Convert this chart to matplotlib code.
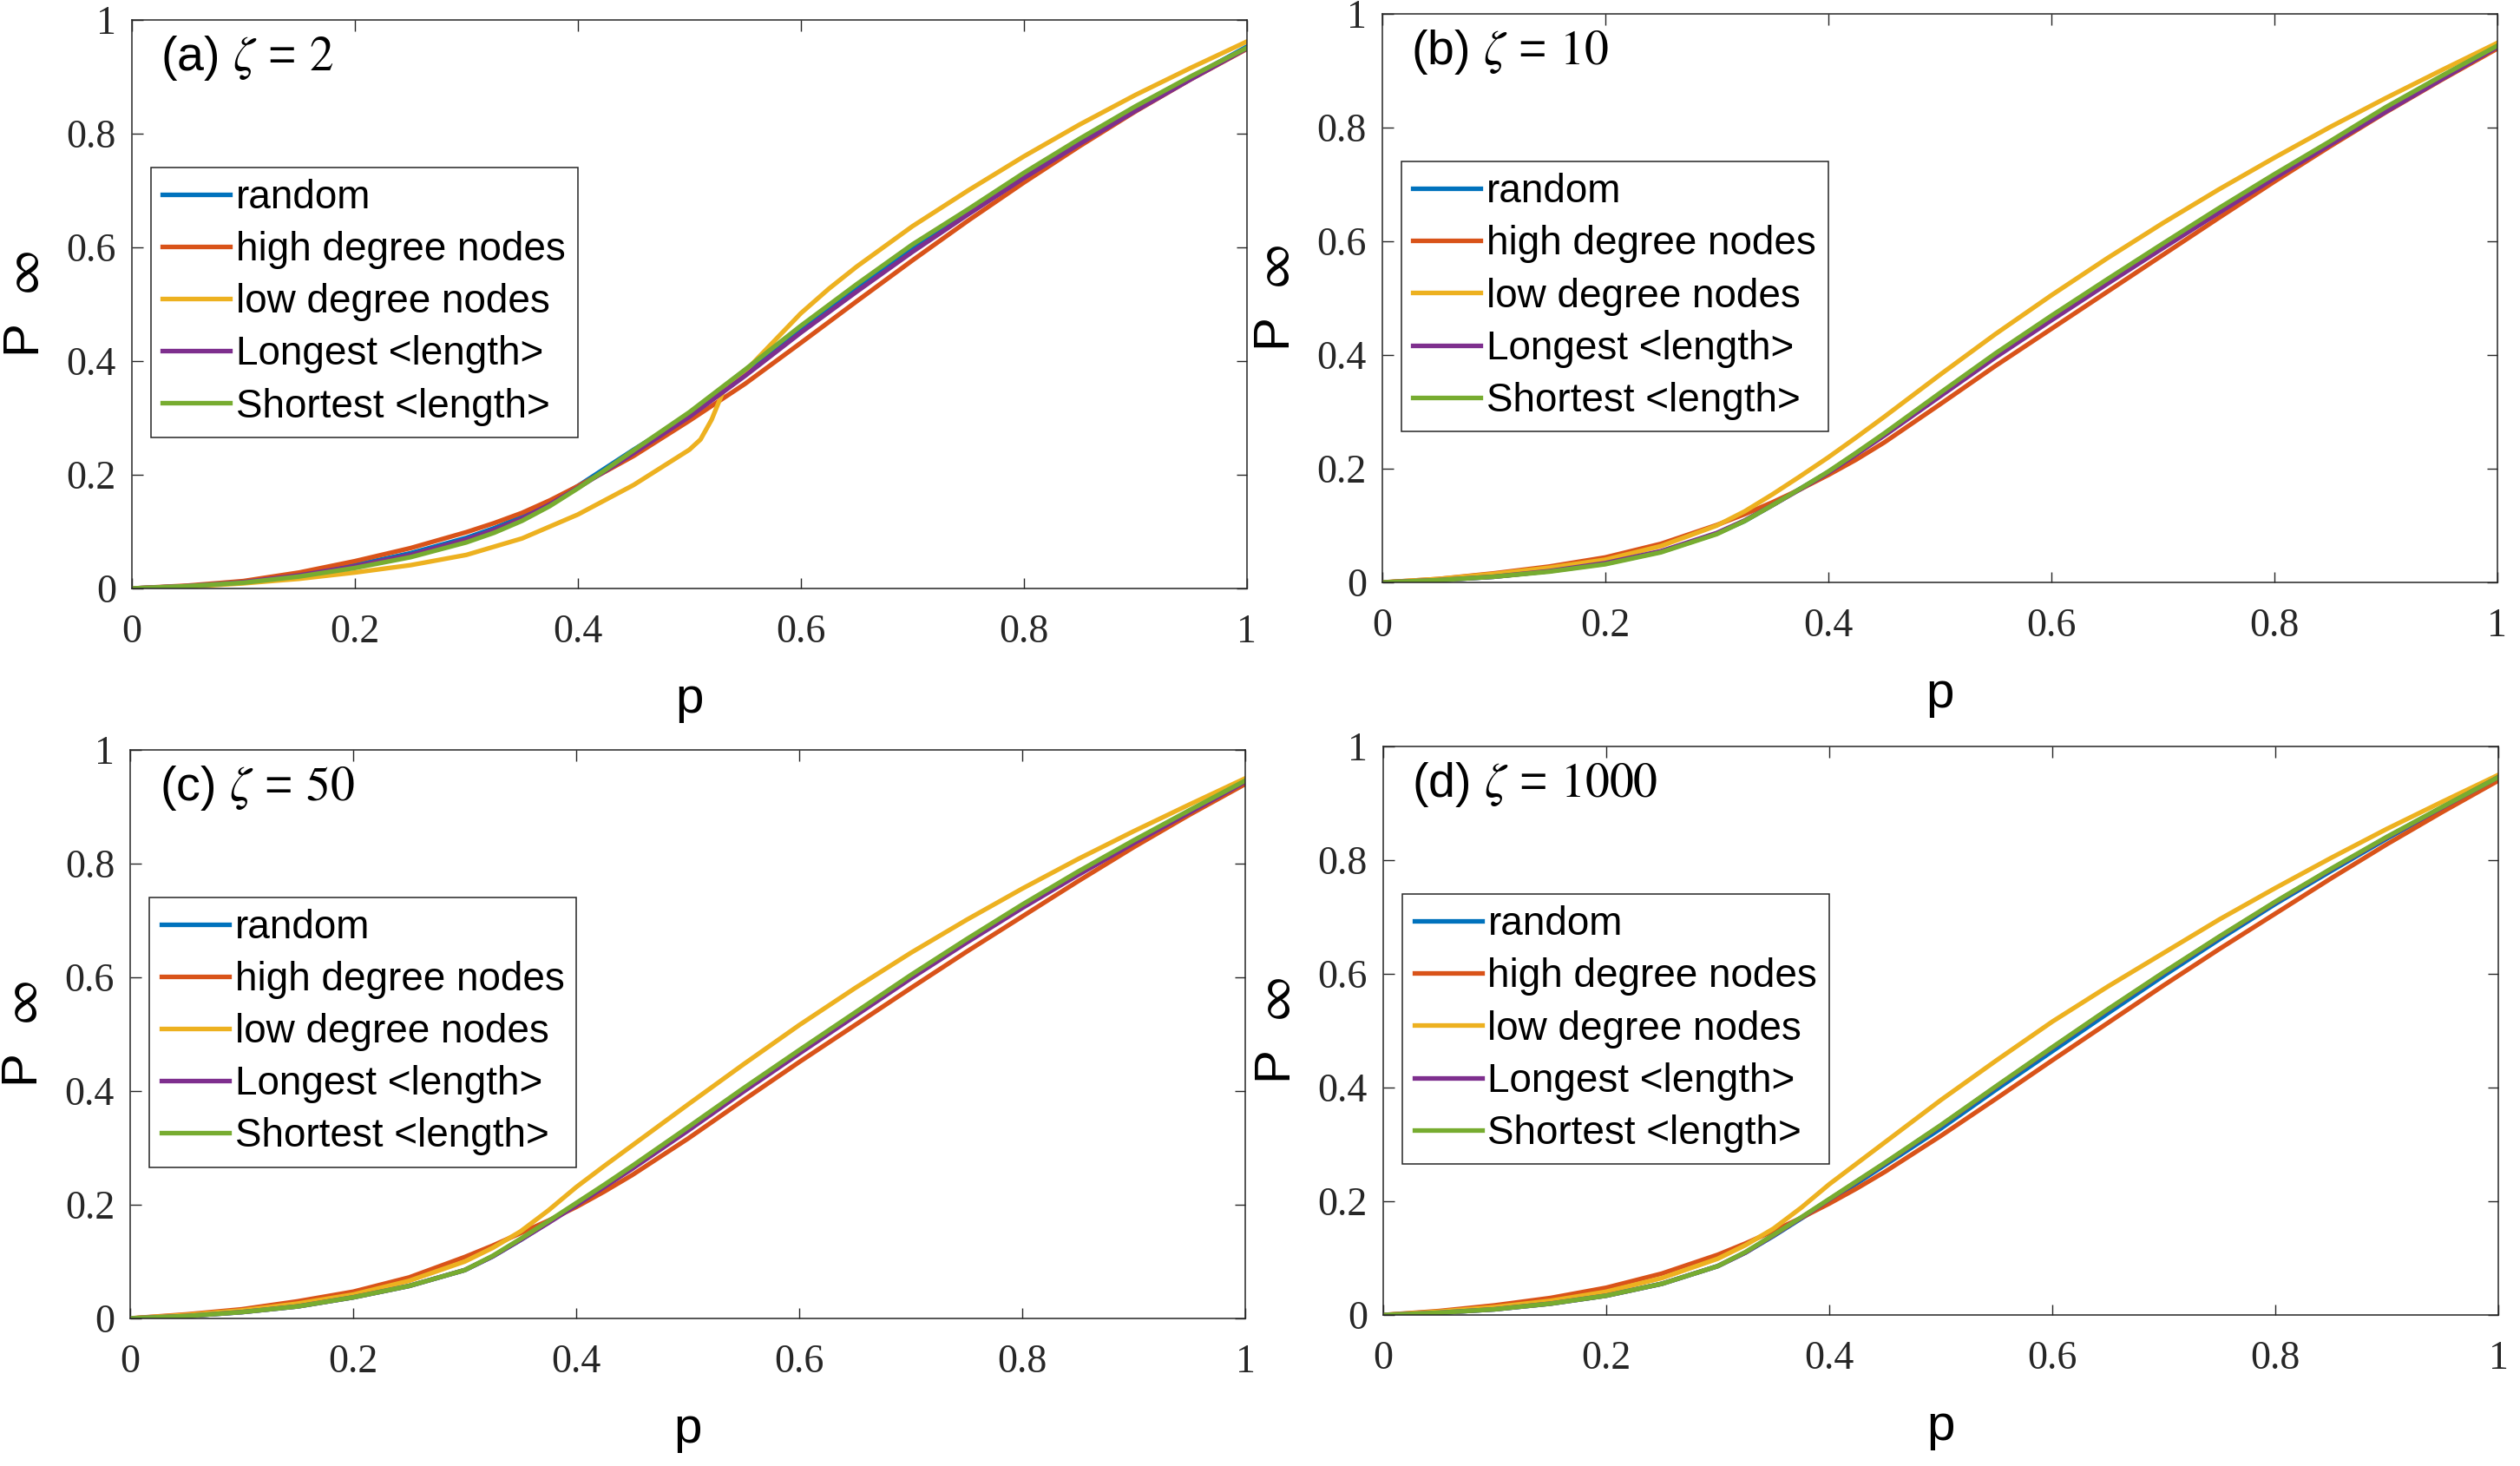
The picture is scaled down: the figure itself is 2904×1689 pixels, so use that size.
import matplotlib.pyplot as plt

plt.rcParams['mathtext.fontset'] = 'stix'

# removal fraction grid (denser where the curves bend)
p = [0, .05, .1, .15, .2, .25, .3, .325, .35, .375, .4, .425, .45, .5, .55, .6, .65, .7, .75, .8, .85, .9, .95, 1]

# panel (a), zeta = 2
a_random = [0, .004, .011, .024, .041, .062, .089, .106, .126, .151, .180, .212, .244, .305, .378, .455, .530, .600, .664, .728, .787, .845, .899, .953]
a_high = [0, .005, .013, .028, .048, .071, .099, .115, .133, .155, .180, .206, .233, .295, .360, .432, .505, .577, .647, .714, .778, .839, .896, .949]
a_p_low = [0, .05, .1, .15, .2, .25, .3, .35, .4, .45, .5, .51, .52, .53, .54, .55, .575, .6, .625, .65, .7, .75, .8, .85, .9, .95, 1]
a_low = [0, .003, .009, .017, .028, .041, .059, .088, .130, .182, .244, .262, .297, .345, .365, .382, .433, .484, .527, .566, .637, .700, .760, .816, .868, .916, .962]
a_longest = [0, .004, .011, .023, .039, .059, .086, .103, .123, .148, .177, .207, .238, .302, .374, .450, .522, .592, .658, .722, .782, .840, .896, .950]
a_shortest = [0, .004, .010, .021, .036, .055, .081, .098, .119, .145, .176, .209, .243, .310, .385, .462, .535, .605, .667, .731, .791, .848, .901, .951]

# panel (b), zeta = 10
b_random = [0, .004, .010, .020, .033, .054, .086, .108, .136, .165, .194, .227, .260, .330, .400, .465, .529, .592, .654, .715, .773, .832, .887, .943]
b_high = [0, .006, .016, .028, .044, .068, .101, .120, .141, .164, .189, .216, .246, .313, .381, .446, .511, .576, .641, .705, .767, .827, .884, .939]
b_low = [0, .006, .015, .026, .040, .064, .100, .125, .155, .187, .220, .255, .291, .365, .437, .505, .570, .632, .691, .747, .801, .852, .901, .949]
b_longest = [0, .004, .010, .020, .034, .055, .087, .109, .136, .164, .193, .225, .258, .327, .396, .461, .525, .588, .650, .711, .770, .828, .885, .942]
b_shortest = [0, .004, .010, .019, .032, .053, .085, .108, .136, .165, .195, .228, .262, .333, .403, .469, .533, .596, .658, .718, .776, .836, .891, .944]

# panel (c), zeta = 50
c_random = [0, .004, .011, .021, .037, .057, .085, .109, .138, .169, .201, .233, .266, .334, .403, .470, .536, .602, .665, .726, .784, .839, .892, .945]
c_high = [0, .007, .016, .030, .047, .072, .108, .128, .150, .172, .196, .223, .252, .316, .384, .451, .516, .581, .645, .707, .769, .829, .886, .940]
c_low = [0, .006, .014, .026, .042, .066, .100, .124, .153, .190, .231, .268, .304, .376, .447, .516, .581, .643, .701, .756, .808, .857, .904, .950]
c_longest = [0, .004, .011, .021, .037, .057, .085, .109, .138, .168, .199, .231, .263, .330, .399, .466, .532, .598, .661, .722, .780, .836, .890, .944]
c_shortest = [0, .004, .011, .021, .037, .057, .085, .110, .140, .171, .203, .235, .268, .336, .405, .472, .538, .604, .667, .728, .786, .841, .894, .946]

# panel (d), zeta = 1000
d_random = [0, .004, .010, .020, .034, .055, .086, .110, .139, .170, .201, .232, .264, .328, .397, .464, .531, .597, .661, .723, .781, .838, .892, .945]
d_high = [0, .007, .017, .030, .048, .073, .106, .126, .148, .171, .196, .223, .252, .315, .381, .448, .514, .580, .644, .706, .768, .828, .885, .940]
d_low = [0, .006, .014, .025, .041, .065, .099, .123, .152, .189, .230, .267, .304, .378, .448, .516, .578, .637, .696, .751, .804, .855, .903, .950]
d_longest = [0, .004, .010, .020, .034, .055, .086, .110, .140, .171, .203, .235, .267, .333, .402, .470, .537, .602, .665, .726, .784, .840, .893, .946]
d_shortest = [0, .004, .010, .020, .034, .055, .086, .111, .141, .172, .204, .236, .268, .334, .403, .471, .538, .603, .666, .727, .785, .841, .894, .946]

labels = ['random', 'high degree nodes', 'low degree nodes', 'Longest <length>', 'Shortest <length>']
colors = ['#0072BD', '#D95319', '#EDB120', '#7E2F8E', '#77AC30']
ticks = [0, 0.2, 0.4, 0.6, 0.8, 1]
tick_labels = ['0', '0.2', '0.4', '0.6', '0.8', '1']

panels = [
    ('(a)', '2', [(p, a_random), (p, a_high), (a_p_low, a_low), (p, a_longest), (p, a_shortest)]),
    ('(b)', '10', [(p, b_random), (p, b_high), (p, b_low), (p, b_longest), (p, b_shortest)]),
    ('(c)', '50', [(p, c_random), (p, c_high), (p, c_low), (p, c_longest), (p, c_shortest)]),
    ('(d)', '1000', [(p, d_random), (p, d_high), (p, d_low), (p, d_longest), (p, d_shortest)]),
]
positions = [
    [0.0523, 0.5986, 0.4425, 0.3878],
    [0.5485, 0.6027, 0.4425, 0.3878],
    [0.0517, 0.1007, 0.4425, 0.3878],
    [0.5489, 0.1030, 0.4425, 0.3878],
]

fig = plt.figure(figsize=(29.04, 16.89), dpi=100)

for (tag, zeta, series), pos in zip(panels, positions):
    ax = fig.add_axes(pos)
    for (xs, ys), lab, col in zip(series, labels, colors):
        ax.plot(xs, ys, color=col, lw=3.8, label=lab, solid_joinstyle='round')
    ax.set_xlim(0, 1)
    ax.set_ylim(0, 1)
    ax.set_xticks(ticks)
    ax.set_xticklabels(tick_labels, family='Liberation Serif', fontsize=33)
    ax.set_yticks(ticks)
    ax.set_yticklabels(tick_labels, family='Liberation Serif', fontsize=33)
    ax.tick_params(axis='x', direction='in', length=9, width=1, top=True, pad=21, colors='#262626')
    ax.tick_params(axis='y', direction='in', length=9, width=1, right=True, pad=13, colors='#262626')
    for s in ax.spines.values():
        s.set_linewidth(1.1)
        s.set_color('#262626')
    ax.set_xlabel('p', family='Liberation Sans', fontsize=42)
    ax.xaxis.set_label_coords(0.5, -0.155)
    ax.set_ylabel(r'P  $\infty$', family='Liberation Sans', fontsize=42)
    ax.yaxis.set_label_coords(-0.074, 0.5)
    ax.text(0.026, 0.911, tag + r' $\zeta$ = $\mathrm{' + zeta + '}$', transform=ax.transAxes,
            family='Liberation Sans', fontsize=40, va='baseline')
    leg = ax.legend(loc='upper left', bbox_to_anchor=(0.017, 0.741), borderaxespad=0,
                    prop={'family': 'Liberation Sans', 'size': 33}, handlelength=1.7,
                    handletextpad=0.15, labelspacing=0.35, borderpad=0.3, fancybox=False,
                    framealpha=1, edgecolor='#262626')
    leg.get_frame().set_linewidth(1.1)

fig.savefig('out.png', dpi=100)
